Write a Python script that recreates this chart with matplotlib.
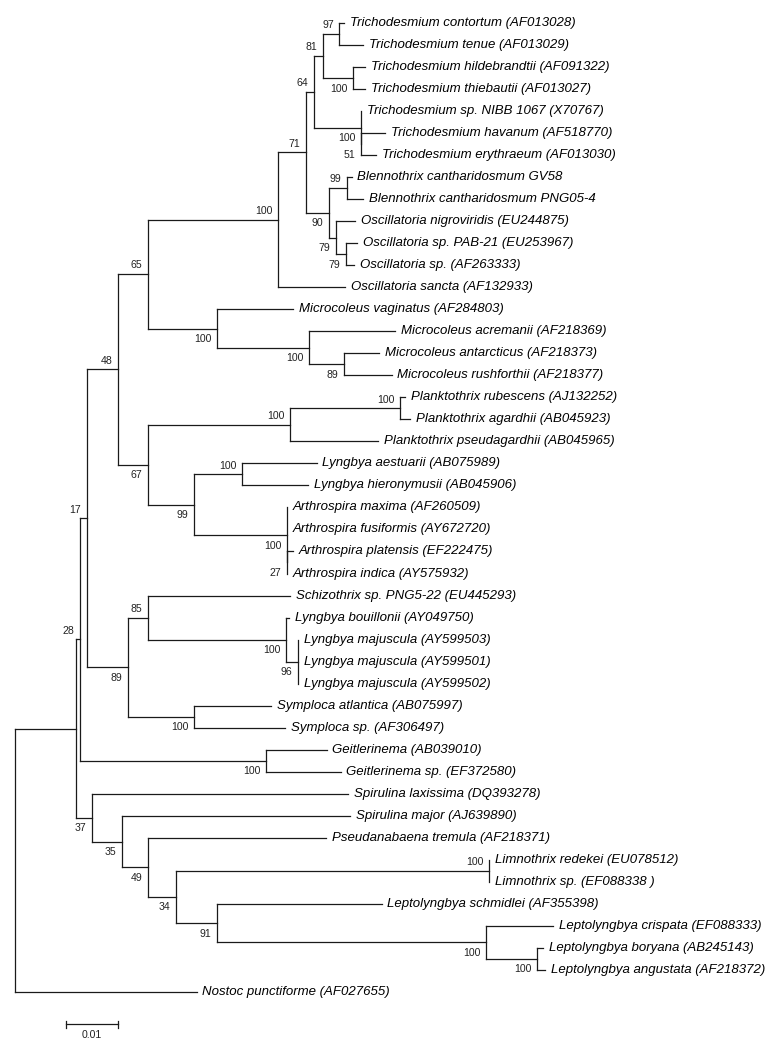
import matplotlib
matplotlib.use("Agg")
import matplotlib.pyplot as plt

# Leaf taxa, top to bottom
taxa = [
    "Trichodesmium contortum (AF013028)",
    "Trichodesmium tenue (AF013029)",
    "Trichodesmium hildebrandtii (AF091322)",
    "Trichodesmium thiebautii (AF013027)",
    "Trichodesmium sp. NIBB 1067 (X70767)",
    "Trichodesmium havanum (AF518770)",
    "Trichodesmium erythraeum (AF013030)",
    "Blennothrix cantharidosmum GV58",
    "Blennothrix cantharidosmum PNG05-4",
    "Oscillatoria nigroviridis (EU244875)",
    "Oscillatoria sp. PAB-21 (EU253967)",
    "Oscillatoria sp. (AF263333)",
    "Oscillatoria sancta (AF132933)",
    "Microcoleus vaginatus (AF284803)",
    "Microcoleus acremanii (AF218369)",
    "Microcoleus antarcticus (AF218373)",
    "Microcoleus rushforthii (AF218377)",
    "Planktothrix rubescens (AJ132252)",
    "Planktothrix agardhii (AB045923)",
    "Planktothrix pseudagardhii (AB045965)",
    "Lyngbya aestuarii (AB075989)",
    "Lyngbya hieronymusii (AB045906)",
    "Arthrospira maxima (AF260509)",
    "Arthrospira fusiformis (AY672720)",
    "Arthrospira platensis (EF222475)",
    "Arthrospira indica (AY575932)",
    "Schizothrix sp. PNG5-22 (EU445293)",
    "Lyngbya bouillonii (AY049750)",
    "Lyngbya majuscula (AY599503)",
    "Lyngbya majuscula (AY599501)",
    "Lyngbya majuscula (AY599502)",
    "Symploca atlantica (AB075997)",
    "Symploca sp. (AF306497)",
    "Geitlerinema (AB039010)",
    "Geitlerinema sp. (EF372580)",
    "Spirulina laxissima (DQ393278)",
    "Spirulina major (AJ639890)",
    "Pseudanabaena tremula (AF218371)",
    "Limnothrix redekei (EU078512)",
    "Limnothrix sp. (EF088338 )",
    "Leptolyngbya schmidlei (AF355398)",
    "Leptolyngbya crispata (EF088333)",
    "Leptolyngbya boryana (AB245143)",
    "Leptolyngbya angustata (AF218372)",
    "Nostoc punctiforme (AF027655)",
]
# clade each taxon hangs from
taxon_parent = [10, 10, 11, 11, 12, 13, 13, 15, 15, 16, 17, 17, 6, 18, 19, 20,
                20, 23, 23, 22, 25, 25, 26, 26, 27, 27, 29, 30, 31, 31, 31, 32,
                32, 33, 33, 34, 35, 36, 38, 38, 39, 40, 41, 41, 0]
# distance from root to tip (substitutions/site)
taxon_depth = [0.06357, 0.06724, 0.06757, 0.06757, 0.06680, 0.07143, 0.06969,
               0.06500, 0.06724, 0.06564, 0.06608, 0.06550, 0.06371,
               0.05373, 0.07336, 0.07033, 0.07272,
               0.07529, 0.07625, 0.07014,
               0.05824, 0.05662,
               0.05251, 0.05251, 0.05376, 0.05251,
               0.05309, 0.05299, 0.05469, 0.05469, 0.05469,
               0.04942, 0.05212,
               0.06017, 0.06288,
               0.06434, 0.06467, 0.06004,
               0.09160, 0.09160,
               0.07079, 0.10392, 0.10193, 0.10232,
               0.03508]

# internal clades: parent clade, distance from root, bootstrap
clade_parent = [-1, 0, 1, 2, 3, 4, 5, 6, 7, 8, 9, 9, 8, 12, 7, 14, 14, 16, 5,
                18, 19, 4, 21, 22, 21, 24, 24, 26, 3, 28, 29, 30, 28, 2, 1, 34,
                35, 36, 37, 37, 39, 40]
clade_depth = [0.0, 0.01178, 0.01255, 0.01384, 0.01994, 0.02562, 0.05083,
               0.05618, 0.05778, 0.05940, 0.06261, 0.06531, 0.06680, 0.06680,
               0.06062, 0.06409, 0.06197, 0.06390, 0.03894, 0.05685, 0.06357,
               0.02562, 0.05309, 0.07432, 0.03461, 0.04376, 0.05251, 0.05251,
               0.02187, 0.02562, 0.05226, 0.05469, 0.03461, 0.04840, 0.01492,
               0.02060, 0.02562, 0.03108, 0.09160, 0.03905, 0.09093, 0.10083]
clade_support = [None, None, 28, 17, 48, 65, 100, 71, 64, 81, 97, 100, 100,
                 51, 90, 99, 79, 79, 100, 100, 89, 67, 100, 100, 99, 100, 100,
                 27, 89, 85, 100, 96, 100, 100, 37, 35, 49, 34, 100, 91, 100,
                 100]

scale_length = 0.01

# children of every clade, in leaf order
children = [[] for _ in clade_parent]
for i, p in enumerate(taxon_parent):
    children[p].append(("t", i))
for j, p in enumerate(clade_parent):
    if p >= 0:
        children[p].append(("c", j))

clade_y = [None] * len(clade_parent)


def get_y(kind, k):
    if kind == "t":
        return float(k)
    if clade_y[k] is None:
        ys = [get_y(*c) for c in children[k]]
        clade_y[k] = (min(ys) + max(ys)) / 2
    return clade_y[k]


for j in range(len(clade_parent)):
    get_y("c", j)

fig = plt.figure(figsize=(7.68, 10.5), dpi=100)
ax = fig.add_axes([0, 0, 1, 1])
ax.set_xlim(-0.002896, 0.145367)
ax.set_ylim(46.639, -1.0445)
ax.axis("off")

line_kw = dict(color="#1a1a1a", lw=0.9, solid_capstyle="projecting")
font = "Liberation Sans"

# branches
for i in range(len(taxa)):
    p = taxon_parent[i]
    ax.plot([clade_depth[p], taxon_depth[i]], [i, i], **line_kw)
for j in range(len(clade_parent)):
    ys = [get_y(*c) for c in children[j]]
    ax.plot([clade_depth[j]] * 2, [min(ys), max(ys)], **line_kw)
    p = clade_parent[j]
    if p >= 0:
        ax.plot([clade_depth[p], clade_depth[j]], [clade_y[j]] * 2, **line_kw)

# taxon names
for i, name in enumerate(taxa):
    ax.annotate(name, (taxon_depth[i], i), xytext=(4, 0), textcoords="offset points",
                ha="left", va="center", fontsize=9.5, style="italic", family=font)

# bootstrap values
for j, s in enumerate(clade_support):
    if s is None:
        continue
    p = clade_parent[j]
    dy = 6.3 if clade_y[j] <= clade_y[p] else -7.6
    ax.annotate(str(s), (clade_depth[j], clade_y[j]), xytext=(-4, dy),
                textcoords="offset points", ha="right", va="center",
                fontsize=7.6, family=font, color="#222222")

# scale bar
bx = 0.0098
by = 45.48
ax.plot([bx, bx + scale_length], [by, by], color="#1a1a1a", lw=0.9)
ax.plot([bx, bx], [by - 0.15, by + 0.15], color="#1a1a1a", lw=0.9)
ax.plot([bx + scale_length] * 2, [by - 0.15, by + 0.15], color="#1a1a1a", lw=0.9)
ax.text(bx + scale_length / 2, 45.96, f"{scale_length:g}", ha="center", va="center",
        fontsize=7.6, family=font, color="#222222")

fig.savefig("out.png", dpi=100)
